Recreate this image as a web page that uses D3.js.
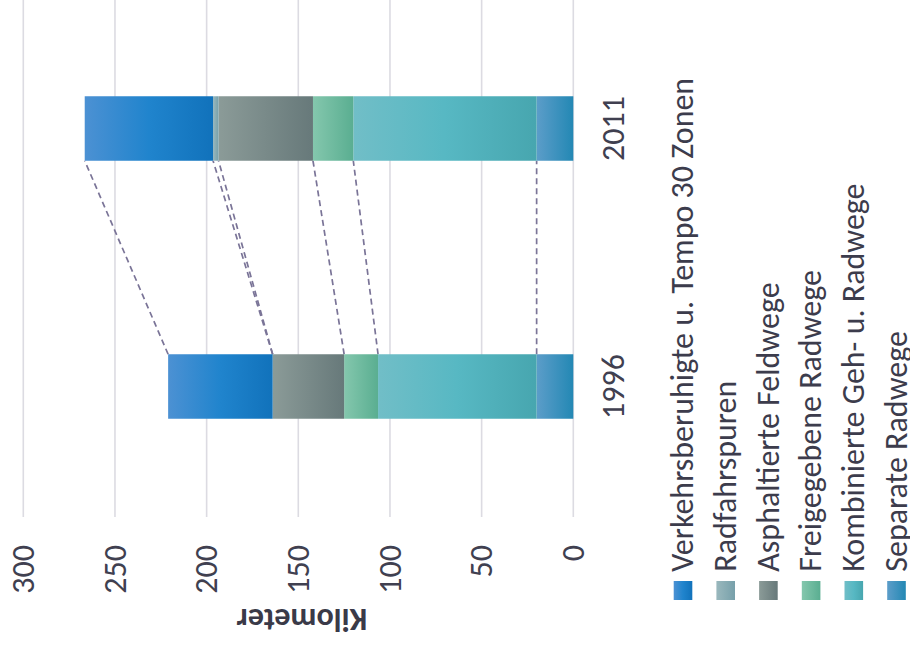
<!DOCTYPE html>
<html><head><meta charset="utf-8">
<script src="https://cdn.jsdelivr.net/npm/d3@7"></script>
<style>
  body { margin: 0; background: #fff; }
  text { font-family: Carlito, Calibri, "Open Sans", sans-serif; }
</style>
</head><body>
<svg id="chart" width="910" height="654"></svg>
<script>
// Radverkehrsnetz nach Wegetyp, Kilometer je Jahr
const years = ["1996", "2011"];
const seriesNames = [
  "Verkehrsberuhigte u. Tempo 30 Zonen",
  "Radfahrspuren",
  "Asphaltierte Feldwege",
  "Freigegebene Radwege",
  "Kombinierte Geh- u. Radwege",
  "Separate Radwege"
];
const verkehrsberuhigt = [57, 70];
const radfahrspuren    = [0, 3];
const asphaltiert      = [39, 51.5];
const freigegeben      = [18.5, 22];
const kombiniert       = [86.5, 100];
const separat          = [20, 20];
const valueTicks = [0, 50, 100, 150, 200, 250, 300];

const seriesValues = [verkehrsberuhigt, radfahrspuren, asphaltiert, freigegeben, kombiniert, separat];
const gradients = [
  [["0%", "#4c91d3"], ["50%", "#2084cd"], ["100%", "#1172bb"]],
  [["0%", "#9ab8bd"], ["100%", "#77a0aa"]],
  [["0%", "#8b9b98"], ["100%", "#67797a"]],
  [["0%", "#84c7ad"], ["100%", "#5aae91"]],
  [["0%", "#71bec7"], ["50%", "#57b8c3"], ["100%", "#47a6af"]],
  [["0%", "#5c9dc9"], ["100%", "#2388b4"]]
];

// Rows for the stack (one per year)
const rows = years.map((yr, i) => {
  const r = { year: yr };
  seriesNames.forEach((n, s) => { r[n] = seriesValues[s][i]; });
  return r;
});
// Stack from the ground up: Separate first, Verkehrsberuhigte on top
const stackKeys = seriesNames.slice().reverse();
const stacked = d3.stack().keys(stackKeys)(rows);

const svg = d3.select("#chart");
const defs = svg.append("defs");
seriesNames.forEach((n, s) => {
  const g = defs.append("linearGradient").attr("id", "grad" + s)
    .attr("x1", 0).attr("y1", 0).attr("x2", 0).attr("y2", 1);
  gradients[s].forEach(([o, c]) => g.append("stop").attr("offset", o).attr("stop-color", c));
});

// The whole column chart is laid out upright and turned a quarter turn
const root = svg.append("g").attr("transform", "translate(0,654) rotate(-90)");

const y = d3.scaleLinear().domain([0, 300]).range([573.3, 23.3]);
const x = d3.scaleBand().domain(years).range([138.5, 654.5])
  .paddingInner(0.75).paddingOuter(0.375);

// Gridlines
root.append("g").selectAll("line").data(valueTicks).join("line")
  .attr("x1", 137).attr("x2", 654)
  .attr("y1", d => y(d)).attr("y2", d => y(d))
  .attr("stroke", "#dcdbe2").attr("stroke-width", 1.6);

// Value axis
const yAxis = root.append("g").attr("transform", "translate(138.5,0)")
  .call(d3.axisLeft(y).tickValues(valueTicks).tickSize(0).tickPadding(29.5));
yAxis.select(".domain").remove();
yAxis.selectAll("text").style("font-size", "32px").attr("fill", "#404050");

// Category axis
const xAxis = root.append("g").attr("transform", "translate(0,573.3)")
  .call(d3.axisBottom(x).tickSize(0).tickPadding(28));
xAxis.select(".domain").remove();
xAxis.selectAll("text").style("font-size", "32px").attr("fill", "#404050");

// Axis title
root.append("text")
  .attr("transform", `translate(45,${(y(0) + y(300)) / 2 + 3.4}) rotate(-90)`)
  .attr("text-anchor", "middle")
  .style("font-size", "32px").style("font-weight", "bold")
  .attr("fill", "#3a3a48")
  .text("Kilometer");

// Series connector lines between the two columns
const bw = x.bandwidth();
stacked.forEach(layer => {
  root.append("line")
    .attr("x1", x(years[0]) + bw).attr("y1", y(layer[0][1]))
    .attr("x2", x(years[1])).attr("y2", y(layer[1][1]))
    .attr("stroke", "#7a7497").attr("stroke-width", 1.7)
    .attr("stroke-dasharray", "6,4");
});

// Stacked columns
stacked.forEach(layer => {
  const s = seriesNames.indexOf(layer.key);
  root.append("g").selectAll("rect").data(layer).join("rect")
    .attr("x", d => x(d.data.year))
    .attr("width", bw)
    .attr("y", d => y(d[1]))
    .attr("height", d => Math.max(0, y(d[0]) - y(d[1])))
    .attr("fill", `url(#grad${s})`);
});

// Legend
const legend = root.append("g");
const rowY = d => 683 + d * 42.7;
seriesNames.forEach((n, s) => {
  legend.append("rect")
    .attr("x", 54).attr("y", rowY(s) - 9.3)
    .attr("width", 19).attr("height", 18.6)
    .attr("fill", `url(#grad${s})`);
  legend.append("text")
    .attr("x", 82.3).attr("y", rowY(s)).attr("dy", "0.32em")
    .style("font-size", "32px").attr("fill", "#3c3c4c")
    .text(n);
});
</script></body></html>
